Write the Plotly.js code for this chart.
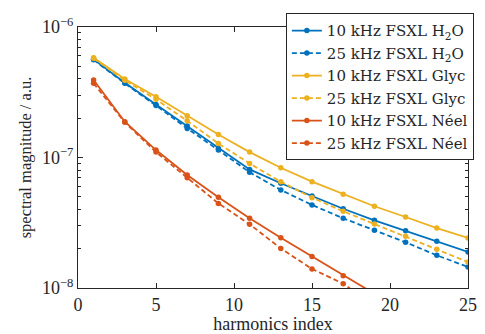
<!DOCTYPE html>
<html>
<head>
<meta charset="utf-8">
<script src="https://cdn.plot.ly/plotly-3.0.1.min.js"></script>
<style>html,body{margin:0;padding:0;background:#fff;}#chart{width:485px;height:334px;}</style>
</head>
<body>
<div id="chart"></div>
<script>
const harmonics = [1, 3, 5, 7, 9, 11, 13, 15, 17, 19, 21, 23, 25];
const h2o10 = [5.65e-7, 3.74e-7, 2.55e-7, 1.74e-7, 1.17e-7, 8.1e-8, 6.35e-8, 5.07e-8, 4.05e-8, 3.30e-8, 2.75e-8, 2.28e-8, 1.89e-8];
const h2o25 = [5.6e-7, 3.7e-7, 2.5e-7, 1.67e-7, 1.14e-7, 7.7e-8, 5.64e-8, 4.33e-8, 3.42e-8, 2.77e-8, 2.24e-8, 1.78e-8, 1.45e-8];
const glyc10 = [5.8e-7, 4.0e-7, 2.92e-7, 2.09e-7, 1.50e-7, 1.10e-7, 8.35e-8, 6.53e-8, 5.23e-8, 4.23e-8, 3.50e-8, 2.88e-8, 2.42e-8];
const glyc25 = [5.75e-7, 3.9e-7, 2.79e-7, 1.91e-7, 1.28e-7, 9.0e-8, 6.53e-8, 4.92e-8, 3.87e-8, 3.09e-8, 2.49e-8, 1.98e-8, 1.58e-8];
const neel10 = [3.93e-7, 1.88e-7, 1.14e-7, 7.34e-8, 4.95e-8, 3.42e-8, 2.43e-8, 1.74e-8, 1.24e-8, 8.9e-9, 6.5e-9, 4.8e-9, 3.6e-9];
const neel25 = [3.70e-7, 1.86e-7, 1.10e-7, 7.0e-8, 4.45e-8, 3.08e-8, 2.01e-8, 1.40e-8, 1.08e-8, 7.3e-9, 5.2e-9, 3.8e-9, 2.8e-9];
const seriesNames = ["10 kHz FSXL H<sub>2</sub>O", "25 kHz FSXL H<sub>2</sub>O", "10 kHz FSXL Glyc", "25 kHz FSXL Glyc", "10 kHz FSXL Néel", "25 kHz FSXL Néel"];
const xTicks = [0, 5, 10, 15, 20, 25];
const yTicks = [1e-8, 1e-7, 1e-6];
const yTickText = ["10<sup>−8</sup>", "10<sup>−7</sup>", "10<sup>−6</sup>"];
const yMinor = [2e-8,3e-8,4e-8,5e-8,6e-8,7e-8,8e-8,9e-8,2e-7,3e-7,4e-7,5e-7,6e-7,7e-7,8e-7,9e-7];

const blue = '#0072BD', yellow = '#EDB120', red = '#D95319';
const data = [h2o10, h2o25, glyc10, glyc25, neel10, neel25];
const colors = [blue, blue, yellow, yellow, red, red];
const dashes = ['solid', '5px,3px', 'solid', '5px,3px', 'solid', '5px,3px'];

const traces = data.map((d, i) => ({
  x: harmonics, y: d, name: seriesNames[i], type: 'scatter', mode: 'lines+markers',
  line: {color: colors[i], width: 1.8, dash: dashes[i]},
  marker: {color: colors[i], size: 5.5, symbol: 'circle'},
  cliponaxis: true
}));

const font = {family: '"Liberation Serif", "DejaVu Serif", serif', size: 18, color: '#262626'};
const legendFont = {family: '"DejaVu Serif", "Liberation Serif", serif', size: 15, color: '#262626'};
const layout = {
  width: 485, height: 334,
  margin: {l: 78, r: 17, t: 27, b: 46, autoexpand: false},
  paper_bgcolor: '#fff', plot_bgcolor: '#fff',
  font: font,
  showlegend: true,
  legend: {x: 0.533, y: 1.0525, xanchor: 'left', yanchor: 'top', bgcolor: '#fff',
           bordercolor: '#262626', borderwidth: 1, font: legendFont, tracegroupgap: 0, itemwidth: 30},
  xaxis: {range: [0, 25], tickvals: xTicks, ticktext: xTicks.map(String), ticks: 'inside', ticklen: 5,
          tickcolor: '#262626', showline: true, linecolor: '#262626', linewidth: 1, mirror: 'allticks',
          showgrid: false, zeroline: false,
          title: {text: 'harmonics index', font: font, standoff: 4}},
  yaxis: {type: 'log', range: [-8, -6], tickvals: yTicks, ticktext: yTickText, ticks: 'inside', ticklen: 5,
          tickcolor: '#262626', showline: true, linecolor: '#262626', linewidth: 1, mirror: 'allticks',
          showgrid: false, zeroline: false,
          minor: {tickvals: yMinor, ticks: 'inside', ticklen: 3, tickcolor: '#262626', showgrid: false},
          title: {text: 'spectral magnitude / a.u.', font: Object.assign({}, font, {size: 16.5}), standoff: 6}}
};
Plotly.newPlot('chart', traces, layout, {displayModeBar: false, staticPlot: true});
</script>
</body>
</html>
